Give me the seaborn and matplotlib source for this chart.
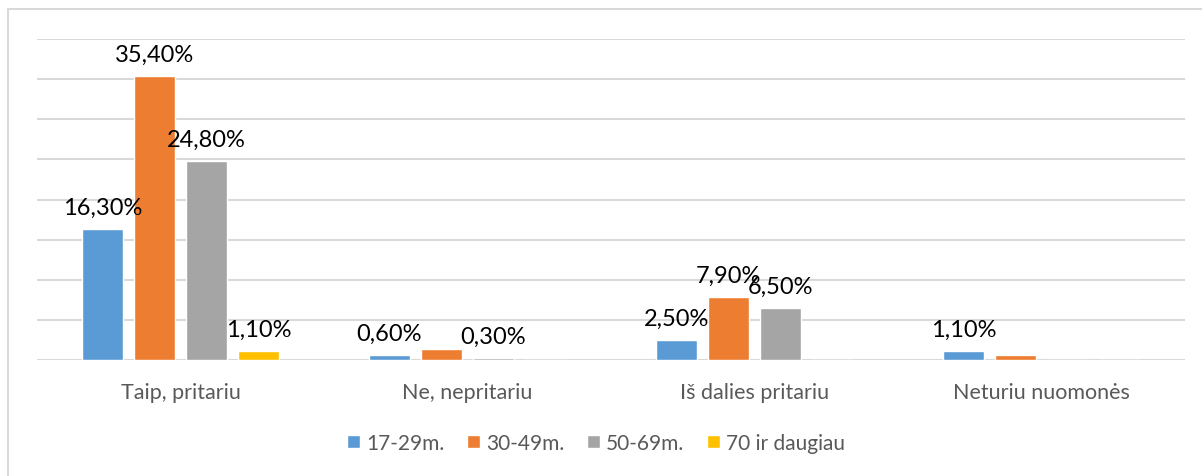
import pandas as pd
import matplotlib.pyplot as plt
import seaborn as sns
from matplotlib.patches import Rectangle

# duomenys
kategorijos = ['Taip, pritariu', 'Ne, nepritariu', 'Iš dalies pritariu', 'Neturiu nuomonės']
grupes = ['17-29m.', '30-49m.', '50-69m.', '70 ir daugiau']
r_17_29 = [16.3, 0.6, 2.5, 1.1]
r_30_49 = [35.4, 1.4, 7.9, 0.6]
r_50_69 = [24.8, 0.3, 6.5, 0.0]
r_70 = [1.1, 0.0, 0.0, 0.0]
# etiketes (tuscios ten, kur originale nera)
et_17_29 = ['16,30%', '0,60%', '2,50%', '1,10%']
et_30_49 = ['35,40%', '', '7,90%', '']
et_50_69 = ['24,80%', '0,30%', '6,50%', '']
et_70 = ['1,10%', '', '', '']

spalvos = ['#5B9BD5', '#ED7D31', '#A5A5A5', '#FFC000']

df = pd.DataFrame({
    'Kategorija': kategorijos * 4,
    'Grupe': [g for g in grupes for _ in kategorijos],
    'Reiksme': r_17_29 + r_30_49 + r_50_69 + r_70,
})
etiketes = [et_17_29, et_30_49, et_50_69, et_70]

sns.set_style("white")
plt.rcParams['font.family'] = ['Lato', 'DejaVu Sans']

fig = plt.figure(figsize=(12.02, 4.77), dpi=100)
ax = fig.add_axes([37 / 1202, 116 / 477, 1148 / 1202, 321 / 477])

sns.barplot(data=df, x='Kategorija', y='Reiksme', hue='Grupe', order=kategorijos,
            hue_order=grupes, palette=spalvos, width=0.725, gap=0.21,
            saturation=1, ax=ax, legend=True)

for cont, et in zip(ax.containers, etiketes):
    ax.bar_label(cont, labels=et, padding=8, fontsize=17, color='#000000')

ax.set_ylim(0, 40)
ax.set_yticks(range(0, 41, 5))
ax.yaxis.grid(True, color='#d9d9d9', linewidth=1.5)
ax.set_axisbelow(True)
ax.tick_params(axis='y', left=False, labelleft=False)
ax.tick_params(axis='x', bottom=False, labelsize=15.5, labelcolor='#595959', pad=12)
for s in ax.spines.values():
    s.set_visible(False)
ax.set_xlabel('')
ax.set_ylabel('')

ax.legend(loc='center', bbox_to_anchor=(0.496, 33 / 477), bbox_transform=fig.transFigure,
          ncol=4, frameon=False, fontsize=15, labelcolor='#595959',
          handlelength=0.6, handleheight=0.6, handletextpad=0.3, columnspacing=1.1)

# remelis
fig.patches.append(Rectangle((8 / 1202, -0.1), 1.2, 1.1 - 10 / 477, transform=fig.transFigure,
                             fill=False, edgecolor='#d9d9d9', linewidth=1.5))

plt.savefig('out.png', dpi=100)
plt.close()
